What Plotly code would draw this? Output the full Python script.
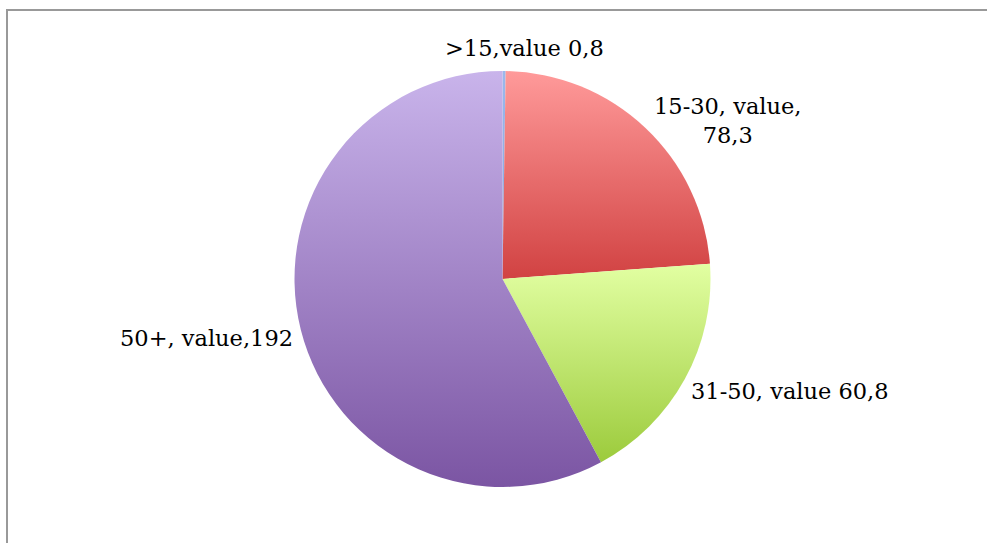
import plotly.graph_objects as go

# Age groups and their values (decimal comma kept in the label text)
categories = [">15", "15-30", "31-50", "50+"]
values = [0.8, 78.3, 60.8, 192]
label_texts = [">15,value 0,8", "15-30, value,<br>78,3", "31-50, value 60,8", "50+, value,192"]

# Slice styling: vertical gradient (top colour, bottom colour) per slice
top_colors = ["#9bb8ec", "#ff9a9a", "#e2ffa2", "#c9b4eb"]
bottom_colors = ["#86a6de", "#d14242", "#9ccb3c", "#7b55a3"]
mid_colors = ["#90afe5", "#e86e6e", "#c0e670", "#a284c7"]

W, H = 987, 543

fig = go.Figure(
    go.Pie(
        labels=categories,
        values=values,
        sort=False,
        direction="clockwise",
        rotation=0,
        textinfo="none",
        hoverinfo="none",
        marker=dict(colors=mid_colors, line=dict(width=0)),
        domain=dict(x=[294.5 / W, 710.5 / W], y=[(H - 487) / H, (H - 71) / H]),
        showlegend=False,
    )
)

# Outside labels for each slice
label_pos = [(524, 48), (727, 121), (790, 391), (206, 338)]
for txt, (px, py) in zip(label_texts, label_pos):
    fig.add_annotation(
        x=px / W, y=1 - py / H, xref="paper", yref="paper",
        text=txt, showarrow=False, xanchor="center", yanchor="middle",
        align="center",
        font=dict(family="DejaVu Serif, Liberation Serif, serif", size=22.5, color="#000000"),
    )

# Chart-area frame
fig.add_shape(
    type="rect", xref="paper", yref="paper",
    x0=7 / W, x1=1.05, y0=-0.05, y1=1 - 10 / H,
    line=dict(color="#999999", width=2), fillcolor="rgba(0,0,0,0)", layer="above",
)

fig.update_layout(
    width=W, height=H,
    margin=dict(l=0, r=0, t=0, b=0),
    paper_bgcolor="white", plot_bgcolor="white",
)

grad_js = """
(function(){
  var gd = document.querySelector('.js-plotly-plot');
  var tops = %s, bots = %s;
  var ns = 'http://www.w3.org/2000/svg';
  function apply(){
    var svg = gd.querySelector('svg.main-svg');
    if(!svg) return;
    var defs = svg.querySelector('defs');
    if(!defs){ defs = document.createElementNS(ns,'defs'); svg.insertBefore(defs, svg.firstChild); }
    gd.querySelectorAll('g.slice path.surface').forEach(function(p, i){
      var id = 'sliceGrad' + i;
      if(!document.getElementById(id)){
        var g = document.createElementNS(ns,'linearGradient');
        g.setAttribute('id', id);
        g.setAttribute('x1','0'); g.setAttribute('y1','0');
        g.setAttribute('x2','0'); g.setAttribute('y2','1');
        var s1 = document.createElementNS(ns,'stop');
        s1.setAttribute('offset','0'); s1.setAttribute('stop-color', tops[i]);
        var s2 = document.createElementNS(ns,'stop');
        s2.setAttribute('offset','1'); s2.setAttribute('stop-color', bots[i]);
        g.appendChild(s1); g.appendChild(s2); defs.appendChild(g);
      }
      p.style.fill = 'url(#' + id + ')';
    });
  }
  apply();
  setTimeout(apply, 30);
  if(gd.on) gd.on('plotly_afterplot', apply);
})();
""" % (str(top_colors), str(bottom_colors))

fig.write_html("out.html", post_script=grad_js)
